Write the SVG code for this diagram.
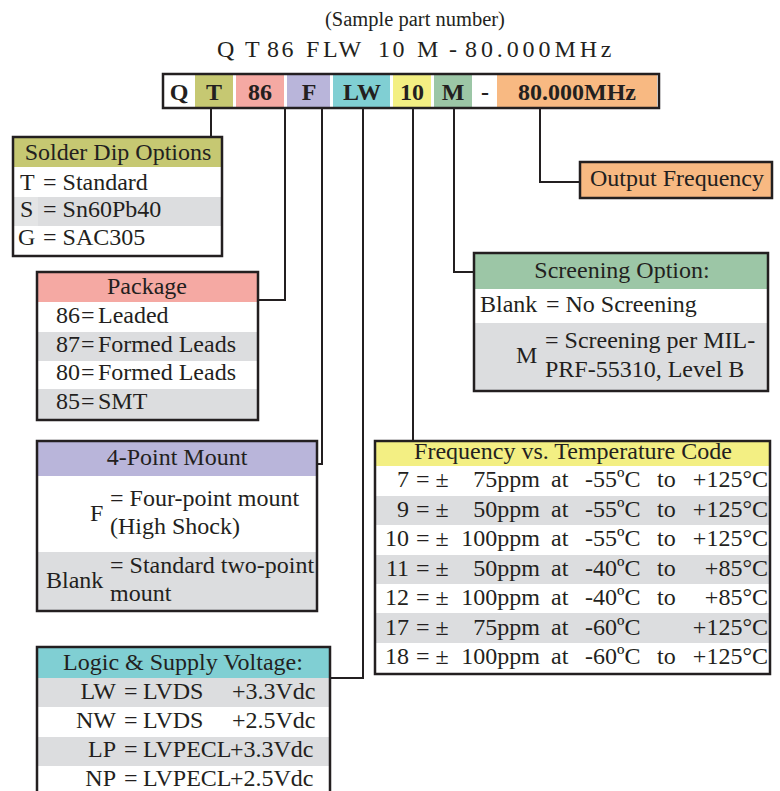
<svg xmlns="http://www.w3.org/2000/svg" width="780" height="791" viewBox="0 0 780 791">
<style>
text{font-family:"Liberation Serif","Times New Roman",serif;fill:#231f20;font-size:24px}
.t{font-size:24px;letter-spacing:2.5px}
.b{font-weight:bold;font-size:24px;text-anchor:middle}
.h{text-anchor:middle}
.r{text-anchor:end}
.box{fill:none;stroke:#231f20;stroke-width:2.5}
.c{fill:none;stroke:#231f20;stroke-width:2}
.g{fill:#dcdddf}
.w{fill:#ffffff}
</style>
<rect width="780" height="791" fill="#ffffff"/>
<g id="title">
<text x="415" y="26" class="h" style="font-size:20.5px">(Sample part number)</text>
<text class="t" y="57"><tspan x="217">Q</tspan><tspan x="245">T</tspan><tspan x="267">86</tspan><tspan x="306">F</tspan><tspan x="323">LW</tspan><tspan x="378">10</tspan><tspan x="417">M</tspan><tspan x="449">-</tspan><tspan x="465" style="letter-spacing:3.9px">80.000MHz</tspan></text>
</g>
<g id="partbar">
<rect x="163" y="74" width="496" height="34" fill="#ffffff"/>
<rect x="195" y="74" width="38" height="34" fill="#c6c872"/>
<rect x="236" y="74" width="48" height="34" fill="#f5a9a3"/>
<rect x="287" y="74" width="43" height="34" fill="#b9b5da"/>
<rect x="333" y="74" width="57" height="34" fill="#80cfd3"/>
<rect x="393" y="74" width="38" height="34" fill="#f3ef83"/>
<rect x="434" y="74" width="38" height="34" fill="#9cc6a6"/>
<rect x="497" y="74" width="160" height="34" fill="#f8b982"/>
<rect x="163" y="74" width="496" height="34" class="box"/>
<text x="179" y="100" class="b">Q</text>
<text x="214" y="100" class="b">T</text>
<text x="260" y="100" class="b">86</text>
<text x="309" y="100" class="b">F</text>
<text x="362" y="100" class="b">LW</text>
<text x="412" y="100" class="b">10</text>
<text x="453" y="100" class="b">M</text>
<text x="485" y="100" class="b">-</text>
<text x="577" y="100" class="b">80.000MHz</text>
</g>
<g id="connectors">
<path class="c" d="M211 109V138"/>
<path class="c" d="M285 109V300H258"/>
<path class="c" d="M322 109V464H317"/>
<path class="c" d="M363 109V678H330"/>
<path class="c" d="M413 109V441"/>
<path class="c" d="M454 109V272H474"/>
<path class="c" d="M540 109V182H580"/>
</g>
<g id="solder">
<rect x="13" y="137" width="209" height="30" fill="#c6c872"/>
<rect x="13" y="197" width="209" height="29" class="g"/>
<rect x="13" y="197" width="25" height="29" fill="#e3e4e5"/>
<rect x="13" y="137" width="209" height="119" class="box"/>
<text x="118" y="160" class="h">Solder Dip Options</text>
<text x="20" y="190">T</text><text x="43" y="190">= Standard</text>
<text x="20" y="217">S</text><text x="43" y="217">= Sn60Pb40</text>
<text x="18" y="245">G</text><text x="43" y="245">= SAC305</text>
</g>
<g id="package">
<rect x="37" y="272" width="221" height="30" fill="#f5a9a3"/>
<rect x="37" y="332" width="221" height="29" class="g"/>
<rect x="37" y="389" width="221" height="30" class="g"/>
<rect x="37" y="272" width="221" height="148" class="box"/>
<text x="147" y="294" class="h">Package</text>
<text x="56" y="323">86</text><text x="81" y="323">=</text><text x="98" y="323">Leaded</text>
<text x="56" y="352">87</text><text x="81" y="352">=</text><text x="98" y="352">Formed Leads</text>
<text x="56" y="380">80</text><text x="81" y="380">=</text><text x="98" y="380">Formed Leads</text>
<text x="56" y="409">85</text><text x="81" y="409">=</text><text x="98" y="409">SMT</text>
</g>
<g id="mount">
<rect x="37" y="441" width="280" height="35" fill="#b9b5da"/>
<rect x="37" y="552" width="280" height="59" class="g"/>
<rect x="37" y="441" width="280" height="170" class="box"/>
<text x="177" y="465" class="h">4-Point Mount</text>
<text x="90" y="521">F</text>
<text x="110" y="506">= Four-point mount</text>
<text x="110" y="534">(High Shock)</text>
<text x="46" y="588">Blank</text>
<text x="110" y="573">= Standard two-point</text>
<text x="110" y="601">mount</text>
</g>
<g id="logic">
<rect x="37" y="647" width="293" height="31" fill="#80cfd3"/>
<rect x="37" y="678" width="293" height="29" class="g"/>
<rect x="37" y="737" width="293" height="29" class="g"/>
<rect x="37" y="647" width="293" height="160" class="box"/>
<text x="183" y="670" class="h">Logic &amp; Supply Voltage:</text>
<text x="116" y="699" class="r">LW</text><text x="124" y="699">=</text><text x="143" y="699">LVDS</text><text x="232" y="699">+3.3Vdc</text>
<text x="116" y="728" class="r">NW</text><text x="124" y="728">=</text><text x="143" y="728">LVDS</text><text x="232" y="728">+2.5Vdc</text>
<text x="116" y="757" class="r">LP</text><text x="124" y="757">=</text><text x="143" y="757">LVPECL</text><text x="230" y="757">+3.3Vdc</text>
<text x="116" y="786" class="r">NP</text><text x="124" y="786">=</text><text x="143" y="786">LVPECL</text><text x="230" y="786">+2.5Vdc</text>
</g>
<g id="freq">
<rect x="375" y="441" width="395" height="25" fill="#f3ef83"/>
<rect x="375" y="496" width="395" height="29" class="g"/>
<rect x="375" y="555" width="395" height="29" class="g"/>
<rect x="375" y="613" width="395" height="30" class="g"/>
<rect x="375" y="441" width="395" height="233" class="box"/>
<text x="573" y="459" class="h">Frequency vs. Temperature Code</text>
<g>
<text x="409" y="487" class="r">7</text><text x="416" y="487">= ±</text><text x="540" y="487" class="r">75ppm</text><text x="551" y="487">at</text><text x="585" y="487">-55ºC</text><text x="657" y="487">to</text><text x="768" y="487" class="r">+125°C</text>
<text x="409" y="517" class="r">9</text><text x="416" y="517">= ±</text><text x="540" y="517" class="r">50ppm</text><text x="551" y="517">at</text><text x="585" y="517">-55ºC</text><text x="657" y="517">to</text><text x="768" y="517" class="r">+125°C</text>
<text x="409" y="546" class="r">10</text><text x="416" y="546">= ±</text><text x="540" y="546" class="r">100ppm</text><text x="551" y="546">at</text><text x="585" y="546">-55ºC</text><text x="657" y="546">to</text><text x="768" y="546" class="r">+125°C</text>
<text x="409" y="576" class="r">11</text><text x="416" y="576">= ±</text><text x="540" y="576" class="r">50ppm</text><text x="551" y="576">at</text><text x="585" y="576">-40ºC</text><text x="657" y="576">to</text><text x="768" y="576" class="r">+85°C</text>
<text x="409" y="605" class="r">12</text><text x="416" y="605">= ±</text><text x="540" y="605" class="r">100ppm</text><text x="551" y="605">at</text><text x="585" y="605">-40ºC</text><text x="657" y="605">to</text><text x="768" y="605" class="r">+85°C</text>
<text x="409" y="635" class="r">17</text><text x="416" y="635">= ±</text><text x="540" y="635" class="r">75ppm</text><text x="551" y="635">at</text><text x="585" y="635">-60ºC</text><text x="768" y="635" class="r">+125°C</text>
<text x="409" y="664" class="r">18</text><text x="416" y="664">= ±</text><text x="540" y="664" class="r">100ppm</text><text x="551" y="664">at</text><text x="585" y="664">-60ºC</text><text x="657" y="664">to</text><text x="768" y="664" class="r">+125°C</text>
</g>
</g>
<g id="screening">
<rect x="474" y="253" width="294" height="36" fill="#9cc6a6"/>
<rect x="474" y="323" width="294" height="68" class="g"/>
<rect x="474" y="253" width="294" height="138" class="box"/>
<text x="622" y="278" class="h">Screening Option:</text>
<text x="480" y="312">Blank</text><text x="546" y="312">= No Screening</text>
<text x="516" y="363">M</text>
<text x="545" y="348">= Screening per MIL-</text>
<text x="545" y="377">PRF-55310, Level B</text>
</g>
<g id="output">
<rect x="580" y="162" width="192" height="36" class="box" style="fill:#f8b982"/>
<text x="590" y="186">Output Frequency</text>
</g>
</svg>
